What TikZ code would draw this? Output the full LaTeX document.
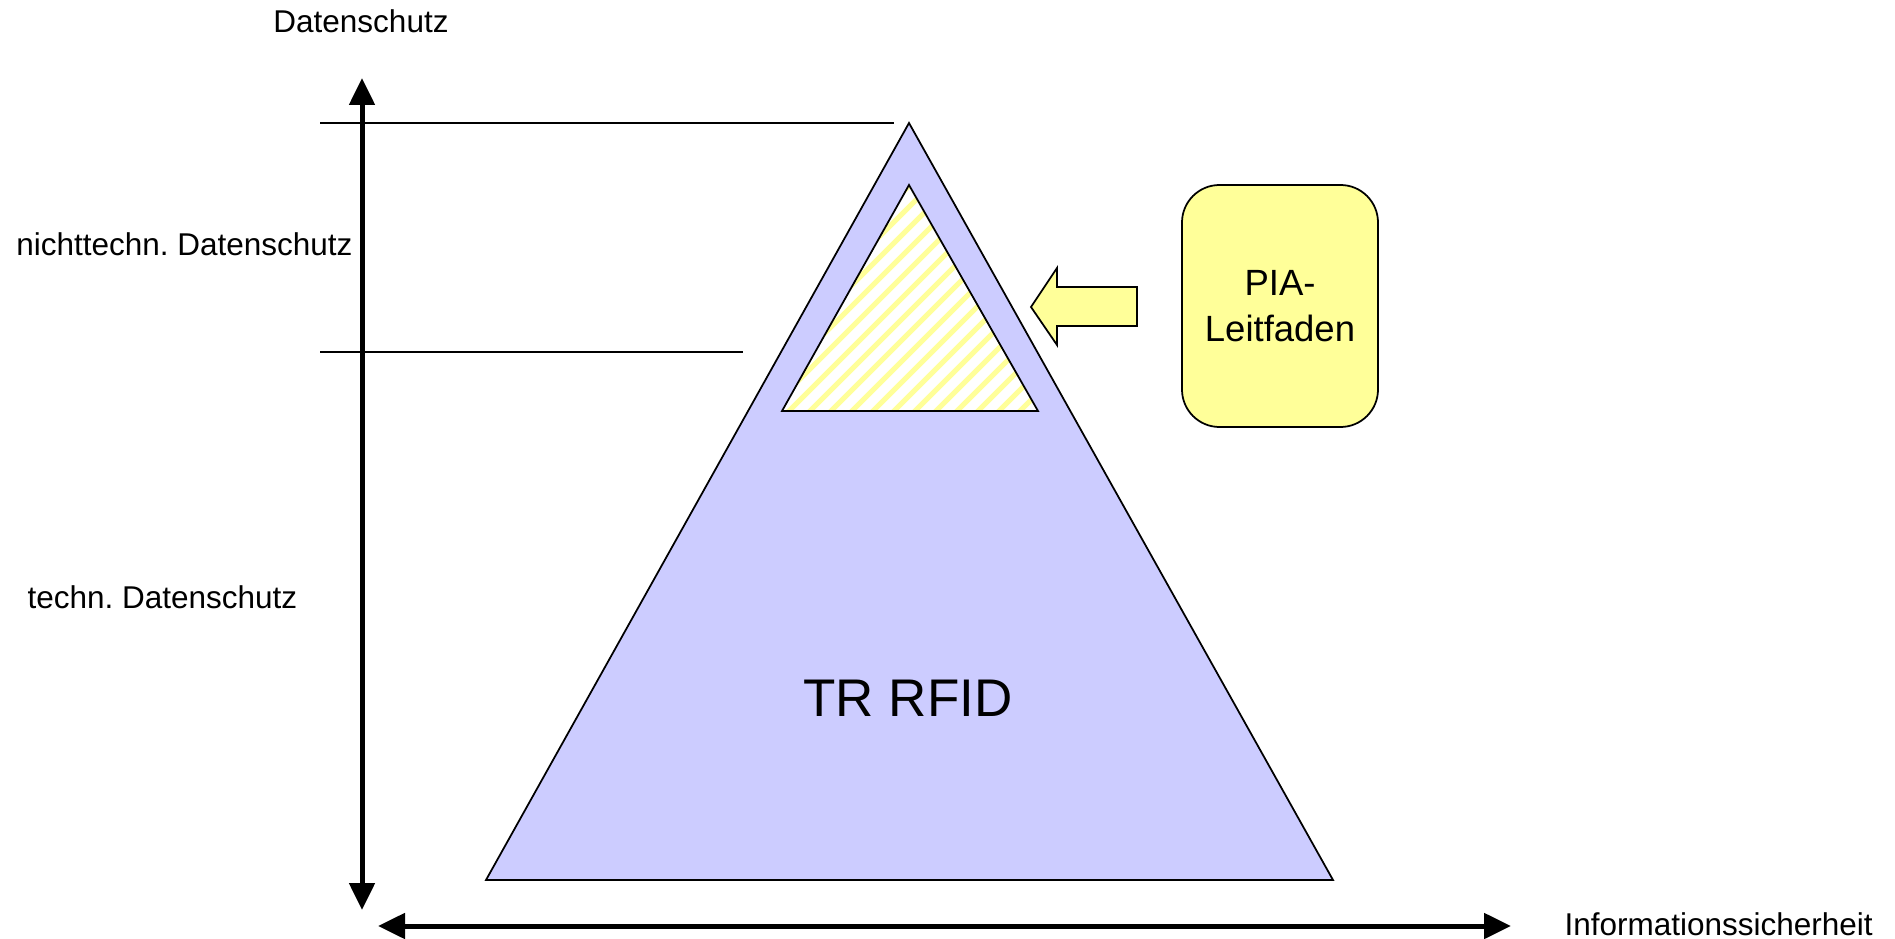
\documentclass[tikz,border=0pt]{standalone}
\usepackage{fontspec}
\setmainfont{Liberation Sans}
\usetikzlibrary{arrows.meta}
\frenchspacing
\definecolor{lav}{RGB}{204,204,255}
\definecolor{paleyellow}{RGB}{255,255,153}
\tikzset{
  axis/.style={line width=2pt, {Triangle[length=10.8pt,width=10pt]}-{Triangle[length=10.8pt,width=10pt]}},
  level/.style={line width=0.6pt},
  label/.style={font=\fontsize{12.6}{15}\selectfont, inner sep=0pt},
  outline/.style={draw=black, line width=0.7pt, line join=miter},
  piabox/.style={outline, fill=paleyellow, rounded corners=15pt, minimum width=78.4pt, minimum height=96.8pt, inner sep=0pt, align=center, font=\fontsize{14.6}{18.2}\selectfont},
  stripe/.style={paleyellow, line width=2.1pt}
}
\begin{document}
\begin{tikzpicture}[x=0.4pt,y=-0.4pt]
\useasboundingbox (0,0) rectangle (1895,939);

% pyramid
\coordinate (apex) at (909,123);
\coordinate (bl) at (486,880);
\coordinate (br) at (1333,880);
\fill[lav] (apex) -- (br) -- (bl) -- cycle;
\draw[outline] (apex) -- (br) -- (bl) -- cycle;

% hatched top
\coordinate (iapex) at (909,185);
\coordinate (ibl) at (782,411);
\coordinate (ibr) at (1038,411);
\fill[white] (iapex) -- (ibr) -- (ibl) -- cycle;
\begin{scope}
  \clip (iapex) -- (ibr) -- (ibl) -- cycle;
  \foreach \k in {560,581,...,1100} {
    \draw[stripe] (\k,430) -- (\k+320,110);
  }
\end{scope}
\draw[outline] (iapex) -- (ibr) -- (ibl) -- cycle;

% level lines
\coordinate (t1) at (320,123);
\coordinate (t2) at (894,123);
\coordinate (m1) at (320,352);
\coordinate (m2) at (743,352);
\draw[level] (t1) -- (t2);
\draw[level] (m1) -- (m2);

% axes
\coordinate (ytop) at (362,78);
\coordinate (ybot) at (362,910);
\coordinate (xleft) at (378,926);
\coordinate (xright) at (1511,926);
\draw[axis] (ytop) -- (ybot);
\draw[axis] (xleft) -- (xright);

% labels
\node[label, anchor=base] (dsch) at (361,33) {Datenschutz};
\node[label, anchor=base east] (ntech) at (353,255) {nichttechn. Datenschutz};
\node[label, anchor=base west] (tech) at (27,608) {techn. Datenschutz};
\node[label, anchor=base west] (isec) at (1564,935) {Informationssicherheit};
\node[inner sep=0pt, anchor=base, font=\fontsize{21.2}{25}\selectfont] (tr) at (908,716) {TR RFID};

% PIA box and block arrow
\node[piabox] (pia) at (1280,306) {PIA-\\Leitfaden};
\draw[outline, fill=paleyellow]
  (1031,307) -- (1057,268) -- (1057,287) -- (1137,287)
  -- (1137,326) -- (1057,326) -- (1057,345) -- cycle;
\end{tikzpicture}
\end{document}
